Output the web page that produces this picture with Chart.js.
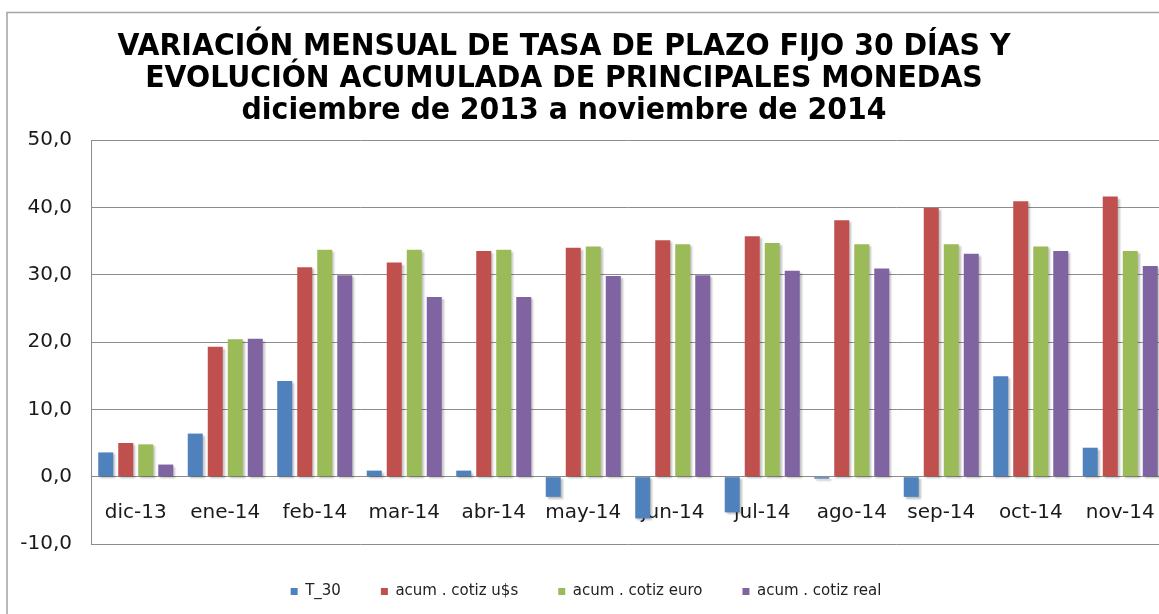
<!DOCTYPE html>
<html>
<head>
<meta charset="utf-8">
<script src="https://cdn.jsdelivr.net/npm/chart.js@4.4.1/dist/chart.umd.min.js"></script>
<style>
  html, body { margin: 0; padding: 0; background: #fff; overflow: hidden; }
  #wrap { position: relative; width: 1173px; height: 614px; }
</style>
</head>
<body>
<div id="wrap"><canvas id="chart"></canvas></div>
<script>
const categories = ['dic-13', 'ene-14', 'feb-14', 'mar-14', 'abr-14', 'may-14', 'jun-14', 'jul-14', 'ago-14', 'sep-14', 'oct-14', 'nov-14'];
const t30 = [3.6, 6.4, 14.2, 0.9, 0.9, -3.0, -6.2, -5.3, -0.3, -3.0, 14.9, 4.3];
const cotizUsd = [5.0, 19.3, 31.1, 31.8, 33.5, 34.0, 35.1, 35.7, 38.1, 39.9, 40.9, 41.6];
const cotizEuro = [4.8, 20.4, 33.7, 33.7, 33.7, 34.2, 34.5, 34.7, 34.5, 34.5, 34.2, 33.5];
const cotizReal = [1.8, 20.5, 29.9, 26.7, 26.7, 29.8, 29.9, 30.6, 30.9, 33.1, 33.5, 31.3];
const seriesNames = ['T_30', 'acum . cotiz u$s', 'acum . cotiz euro', 'acum . cotiz real'];
const titleLines = [
    'VARIACIÓN MENSUAL DE TASA DE PLAZO FIJO 30 DÍAS Y',
    'EVOLUCIÓN ACUMULADA DE PRINCIPALES MONEDAS',
    'diciembre de 2013 a noviembre de 2014'
];

// excel style frame + squeezed bold title
const framePlugin = {
    id: 'frame',
    beforeDraw(chart) {
        const ctx = chart.ctx;
        ctx.save();
        ctx.strokeStyle = '#a3a3a3';
        ctx.lineWidth = 1.5;
        ctx.strokeRect(7, 12.5, chart.width + 20, chart.height + 20);
        ctx.restore();
    },
    afterDraw(chart) {
        const ctx = chart.ctx;
        ctx.save();
        ctx.font = 'bold 30px "DejaVu Sans"';
        ctx.fillStyle = '#000';
        ctx.textAlign = 'center';
        ctx.textBaseline = 'alphabetic';
        const sx = 893 / ctx.measureText(titleLines[0]).width;
        titleLines.forEach((line, i) => {
            ctx.save();
            ctx.translate(564, 55 + i * 32);
            ctx.scale(sx, 1);
            ctx.fillText(line, 0, 0);
            ctx.restore();
        });
        ctx.restore();
    }
};

const shadowPlugin = {
    id: 'barShadow',
    beforeDatasetsDraw(chart) {
        const ctx = chart.ctx;
        ctx.save();
        ctx.shadowColor = 'rgba(0, 0, 0, 0.25)';
        ctx.shadowOffsetX = 2;
        ctx.shadowOffsetY = 2;
        ctx.shadowBlur = 2;
    },
    afterDatasetsDraw(chart) {
        chart.ctx.restore();
    }
};

const colors = ['#4F81BD', '#C0504D', '#9BBB59', '#8064A2'];
const values = [t30, cotizUsd, cotizEuro, cotizReal];

const ctx = document.getElementById('chart').getContext('2d');
new Chart(ctx, {
    type: 'bar',
    data: {
        labels: categories,
        datasets: values.map((data, i) => ({
            label: seriesNames[i],
            data: data,
            backgroundColor: colors[i],
            borderWidth: 0,
            categoryPercentage: 0.894,
            barPercentage: 0.75
        }))
    },
    options: {
        responsive: true,
        maintainAspectRatio: false,
        animation: false,
        layout: { padding: { left: 7, top: 140, right: 8, bottom: 5 } },
        scales: {
            x: {
                position: { y: 0 },
                z: 1,
                grid: { display: false },
                border: { display: true, color: '#8c8c8c', width: 1 },
                ticks: {
                    color: '#1a1a1a',
                    padding: 16,
                    font: { family: '"DejaVu Sans"', size: 20 }
                }
            },
            y: {
                min: -10,
                max: 50,
                afterFit: (scale) => { scale.width = 84; },
                grid: { color: '#8c8c8c', lineWidth: 1, drawTicks: false },
                border: { display: true, color: '#8c8c8c', width: 1 },
                ticks: {
                    stepSize: 10,
                    padding: 19,
                    color: '#1a1a1a',
                    font: { family: '"DejaVu Sans"', size: 20 },
                    callback: (v) => v.toFixed(1).replace('.', ',')
                }
            }
        },
        plugins: {
            legend: {
                position: 'bottom',
                labels: {
                    boxWidth: 7,
                    boxHeight: 7,
                    padding: 40,
                    color: '#222',
                    font: { family: '"DejaVu Sans"', size: 15 }
                }
            },
            title: { display: false },
            tooltip: { enabled: false }
        }
    },
    plugins: [framePlugin, shadowPlugin]
});
</script>
</body>
</html>
